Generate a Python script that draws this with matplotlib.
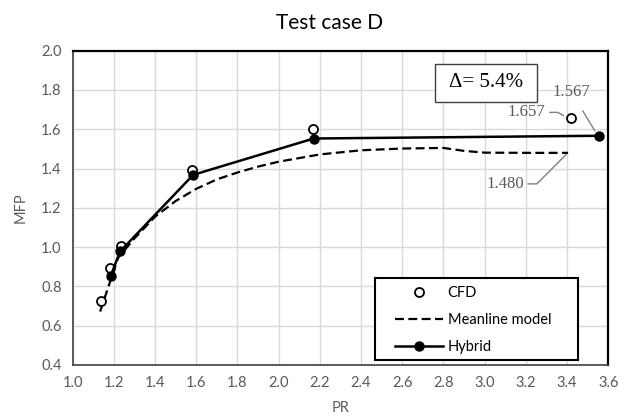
import matplotlib.pyplot as plt
from matplotlib.patches import Rectangle

# data
cfd_pr = [1.135, 1.183, 1.232, 1.578, 2.167, 3.417]
cfd_mfp = [0.728, 0.893, 1.004, 1.394, 1.602, 1.657]

hyb_pr = [1.184, 1.230, 1.585, 2.170, 3.555]
hyb_mfp = [0.853, 0.978, 1.368, 1.553, 1.567]

mean_pr = [1.133, 1.18, 1.22, 1.30, 1.40, 1.50, 1.60, 1.70, 1.80, 1.90, 2.00,
           2.20, 2.40, 2.60, 2.80, 2.90, 3.00, 3.20, 3.405]
mean_mfp = [0.672, 0.82, 0.945, 1.045, 1.155, 1.235, 1.297, 1.345, 1.38, 1.41, 1.435,
            1.472, 1.493, 1.502, 1.505, 1.49, 1.481, 1.480, 1.480]

x_ticks = [1.0 + 0.2 * i for i in range(14)]
y_ticks = [0.4 + 0.2 * i for i in range(9)]

font = "Lato"
grey = "#595959"

fig = plt.figure(figsize=(6.2, 4.18), dpi=100)
ax = fig.add_axes([0.1173, 0.1268, 0.8637, 0.7519])

ax.plot(mean_pr, mean_mfp, color="black", lw=1.6, ls=(0, (4, 2)), label="Meanline model", zorder=3)
ax.plot(cfd_pr, cfd_mfp, ls="none", marker="o", ms=6.5, mfc="white", mec="black", mew=1.3,
        label="CFD", zorder=4)
ax.plot(hyb_pr, hyb_mfp, color="black", lw=1.8, marker="o", ms=6.5, label="Hybrid", zorder=5)

ax.set_xlim(1.0, 3.6)
ax.set_ylim(0.4, 2.0)
ax.set_xticks(x_ticks)
ax.set_yticks(y_ticks)
ax.set_xticklabels([f"{v:.1f}" for v in x_ticks], family=font, fontsize=10.5, color=grey)
ax.set_yticklabels([f"{v:.1f}" for v in y_ticks], family=font, fontsize=10.5, color=grey)
ax.tick_params(length=0, pad=8)
ax.grid(True, color="#d9d9d9", lw=1.0)
ax.set_axisbelow(True)

for side in ["top", "right"]:
    ax.spines[side].set_color("black")
    ax.spines[side].set_linewidth(1.6)
for side in ["left", "bottom"]:
    ax.spines[side].set_color("#404040")
    ax.spines[side].set_linewidth(1.2)

ax.set_xlabel("PR", family=font, fontsize=10.5, color=grey, labelpad=8)
ax.set_ylabel("MFP", family=font, fontsize=10.5, color=grey, labelpad=10)
fig.text(0.532, 0.945, "Test case D", family=font, fontsize=15, color="black",
         ha="center", va="center")

# delta box
ax.add_patch(Rectangle((2.759, 1.739), 0.495, 0.193, fc="white", ec="#404040", lw=1.0, zorder=6))
ax.text(3.006, 1.836, "\u0394= 5.4%", family="Liberation Serif", fontsize=15, color="black",
        ha="center", va="center", zorder=7)

ax.annotate("1.567", xy=(3.545, 1.575), xytext=(3.42, 1.791), family="Liberation Serif",
            fontsize=12, color=grey, ha="center", va="center",
            arrowprops=dict(arrowstyle="-", color="#7f7f7f", lw=1.0, shrinkA=7, shrinkB=3))
ax.annotate("1.657", xy=(3.395, 1.662), xytext=(3.204, 1.686), family="Liberation Serif",
            fontsize=12, color=grey, ha="center", va="center",
            arrowprops=dict(arrowstyle="-", color="#7f7f7f", lw=1.0, shrinkA=1, shrinkB=2,
                            connectionstyle="angle,angleA=0,angleB=-30,rad=0"))
ax.annotate("1.480", xy=(3.405, 1.481), xytext=(3.099, 1.322), family="Liberation Serif",
            fontsize=12, color=grey, ha="center", va="center",
            arrowprops=dict(arrowstyle="-", color="#7f7f7f", lw=1.0, shrinkA=1, shrinkB=2,
                            connectionstyle="angle,angleA=0,angleB=45,rad=0"))

# legend: frame drawn separately so the entries can sit inside it like the original
ax.add_patch(Rectangle((0.564, 0.016), 0.379, 0.261, transform=ax.transAxes,
                       fc="white", ec="black", lw=1.5, zorder=8))
handles, labels = ax.get_legend_handles_labels()
order = [1, 0, 2]
leg = ax.legend([handles[i] for i in order], [labels[i] for i in order],
                loc="upper left", bbox_to_anchor=(0.602, 0.252),
                prop=dict(family=font, size=10.5), frameon=False,
                handlelength=3.3, handletextpad=0.3, labelspacing=0.89, borderpad=0,
                borderaxespad=0)
leg.set_zorder(9)
for t in leg.get_texts():
    t.set_color("black")

fig.savefig("out.png", dpi=100)
